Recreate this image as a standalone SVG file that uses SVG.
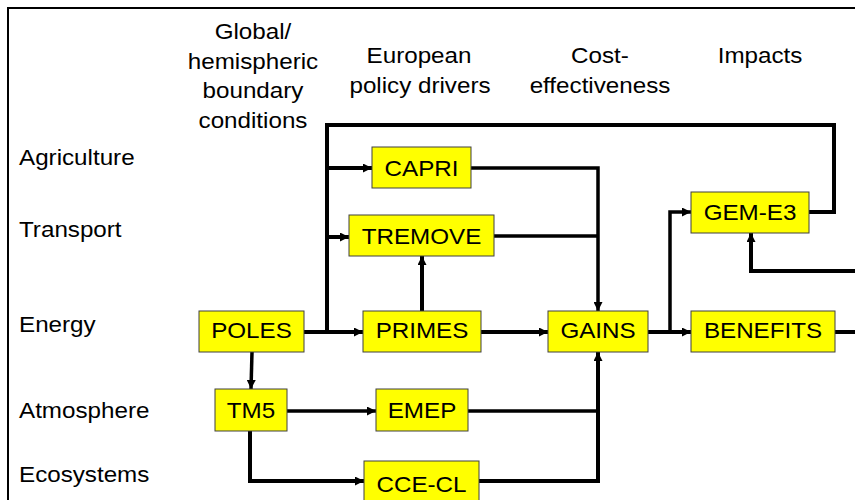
<svg xmlns="http://www.w3.org/2000/svg" width="855" height="500" viewBox="0 0 855 500">
  <style>
    .t { font-family: "Liberation Sans", Arial, sans-serif; font-size: 22px; fill: #000; }
    .c { text-anchor: middle; }
    .box { fill: #FFFF00; stroke: #404040; stroke-width: 1; }
    .ln { fill: none; stroke: #000; stroke-width: 4; stroke-linejoin: miter; }
    .thin { stroke-width: 3.5; }
    .arr { marker-end: url(#ah); }
  </style>
  <defs>
    <marker id="ah" markerUnits="userSpaceOnUse" markerWidth="10" markerHeight="9" refX="9" refY="4.5" orient="auto">
      <path d="M0,0 L9,4.5 L0,9 z" fill="#000"/>
    </marker>
  </defs>
  <rect x="0" y="0" width="855" height="500" fill="#fff"/>
  <rect x="8" y="8" width="870" height="520" fill="none" stroke="#000" stroke-width="2"/>

  <g id="headers">
    <text class="t c" transform="translate(253,39) scale(1.1,1)">Global/</text>
    <text class="t c" transform="translate(253,69) scale(1.1,1)">hemispheric</text>
    <text class="t c" transform="translate(253,98) scale(1.1,1)">boundary</text>
    <text class="t c" transform="translate(253,128) scale(1.1,1)">conditions</text>
    <text class="t c" transform="translate(419,63) scale(1.1,1)">European</text>
    <text class="t c" transform="translate(420,93) scale(1.1,1)">policy drivers</text>
    <text class="t c" transform="translate(600,63) scale(1.1,1)">Cost-</text>
    <text class="t c" transform="translate(600,93) scale(1.1,1)">effectiveness</text>
    <text class="t c" transform="translate(760,63) scale(1.1,1)">Impacts</text>
  </g>

  <g id="rows">
    <text class="t" transform="translate(19,165) scale(1.1,1)">Agriculture</text>
    <text class="t" transform="translate(19,237) scale(1.1,1)">Transport</text>
    <text class="t" transform="translate(19,332) scale(1.1,1)">Energy</text>
    <text class="t" transform="translate(19,418) scale(1.1,1)">Atmosphere</text>
    <text class="t" transform="translate(19,482) scale(1.1,1)">Ecosystems</text>
  </g>

  <g id="connectors">
    <path class="ln" d="M809 212 H834 V125 H327 V332"/>
    <path class="ln arr" d="M304 332 H363"/>
    <path class="ln arr" d="M327 168 H372"/>
    <path class="ln arr" d="M327 237 H349"/>
    <path class="ln arr" d="M422 311 V256"/>
    <path class="ln thin arr" d="M471 168 H598 V311"/>
    <path class="ln thin" d="M494 236 H598"/>
    <path class="ln arr" d="M481 332 H548"/>
    <path class="ln arr" d="M648 332 H691"/>
    <path class="ln thin arr" d="M670 332 V212 H691"/>
    <path class="ln" d="M835 332 H856"/>
    <path class="ln arr" d="M856 271 H751 V233"/>
    <path class="ln thin arr" d="M252 352 L251 389"/>
    <path class="ln thin arr" d="M287 411 H376"/>
    <path class="ln thin" d="M468 411 H598"/>
    <path class="ln arr" d="M250 431 V481 H364"/>
    <path class="ln arr" d="M479 481 H598 V352"/>
  </g>

  <g id="CAPRI">
    <rect class="box" x="372" y="147" width="99" height="41"/>
    <text class="t c" transform="translate(421.5,175.5) scale(1.1,1)">CAPRI</text>
  </g>
  <g id="TREMOVE">
    <rect class="box" x="349" y="215" width="145" height="41"/>
    <text class="t c" transform="translate(421.5,243.5) scale(1.1,1)">TREMOVE</text>
  </g>
  <g id="POLES">
    <rect class="box" x="199" y="311" width="105" height="41"/>
    <text class="t c" transform="translate(251.5,338) scale(1.1,1)">POLES</text>
  </g>
  <g id="PRIMES">
    <rect class="box" x="363" y="311" width="118" height="41"/>
    <text class="t c" transform="translate(422,338) scale(1.1,1)">PRIMES</text>
  </g>
  <g id="GAINS">
    <rect class="box" x="548" y="311" width="100" height="41"/>
    <text class="t c" transform="translate(598,338) scale(1.1,1)">GAINS</text>
  </g>
  <g id="BENEFITS">
    <rect class="box" x="691" y="311" width="144" height="41"/>
    <text class="t c" transform="translate(763,338) scale(1.1,1)">BENEFITS</text>
  </g>
  <g id="GEM-E3">
    <rect class="box" x="691" y="192" width="118" height="41"/>
    <text class="t c" transform="translate(750,220) scale(1.1,1)">GEM-E3</text>
  </g>
  <g id="TM5">
    <rect class="box" x="215" y="389" width="72" height="42"/>
    <text class="t c" transform="translate(251,418) scale(1.1,1)">TM5</text>
  </g>
  <g id="EMEP">
    <rect class="box" x="376" y="389" width="92" height="42"/>
    <text class="t c" transform="translate(422,418) scale(1.1,1)">EMEP</text>
  </g>
  <g id="CCE-CL">
    <rect class="box" x="364" y="461" width="115" height="45"/>
    <text class="t c" transform="translate(421.5,492) scale(1.1,1)">CCE-CL</text>
  </g>
</svg>
